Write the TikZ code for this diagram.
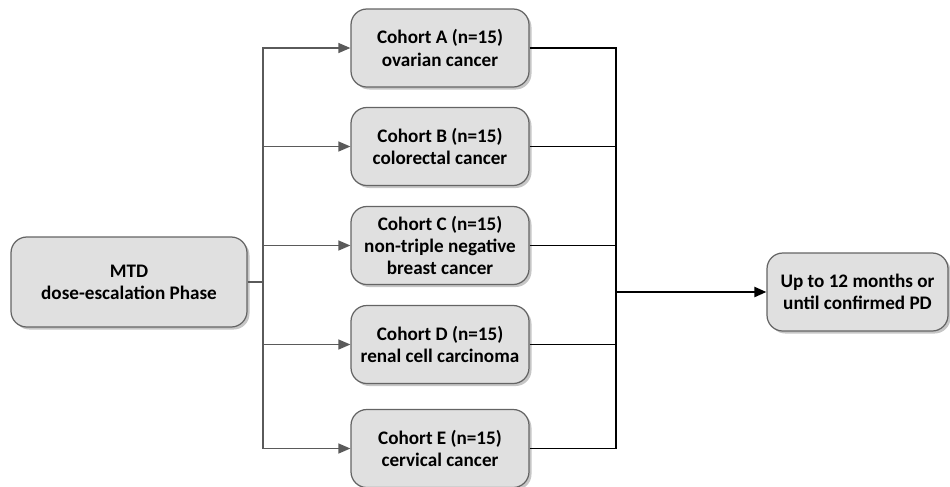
\documentclass[tikz,border=0pt]{standalone}
\usepackage{fontspec}
\setmainfont{Carlito}
\definecolor{boxfill}{RGB}{224,224,224}
\definecolor{boxline}{RGB}{100,100,100}
\definecolor{feedgray}{RGB}{90,90,90}
\usetikzlibrary{arrows.meta,shadows}

\begin{document}
\begin{tikzpicture}[
      stage/.style={draw=boxline,fill=boxfill,line width=0.7pt,rounded corners=9pt,
                   minimum width=3.56cm,minimum height=1.56cm,inner sep=1pt,
                   font=\fontsize{10.9}{12.6}\selectfont\bfseries,align=center,
                   drop shadow={shadow xshift=0.05cm,shadow yshift=-0.05cm,opacity=0.45}},
      feed/.style={-{Triangle[length=2.4mm,width=2mm]},draw=feedgray,line width=0.7pt},
      mergeline/.style={draw=black,line width=0.75pt},
      outarr/.style={-{Triangle[length=2.4mm,width=2mm]},draw=black,line width=1.3pt}
    ]
      \useasboundingbox (0,0) rectangle (19,-9.72);
      % Dose escalation
      \node[stage,minimum width=4.72cm,minimum height=1.8cm] (mtd) at (2.58,-5.64) {MTD\\dose-escalation Phase};
      % Expansion cohorts
      \node[stage] (ca) at (8.8,-0.96) {Cohort A (n=15)\\ovarian cancer};
      \node[stage] (cb) at (8.8,-2.93) {Cohort B (n=15)\\colorectal cancer};
      \node[stage] (cc) at (8.8,-4.91) {Cohort C (n=15)\\non-triple negative\\breast cancer};
      \node[stage] (cd) at (8.8,-6.89) {Cohort D (n=15)\\renal cell carcinoma};
      \node[stage] (ce) at (8.8,-8.97) {Cohort E (n=15)\\cervical cancer};
      % Follow-up
      \node[stage,minimum width=3.62cm] (pd) at (17.15,-5.84) {Up to 12 months or\\until confirmed PD};
      \coordinate (split) at (5.26,-5.64);
      \coordinate (merge) at (12.32,-5.84);
      % Branches
      \draw[feedgray,line width=0.7pt] (mtd) -- (split);
      \draw[feed] (split) |- (ca); \draw[feed] (split) |- (cb); \draw[feed] (split) |- (cc);
      \draw[feed] (split) |- (cd); \draw[feed] (split) |- (ce);
      \draw[mergeline] (ca) -| (merge); \draw[mergeline] (cb) -| (merge); \draw[mergeline] (cc) -| (merge);
      \draw[mergeline] (cd) -| (merge); \draw[mergeline] (ce) -| (merge);
      \draw[outarr] (merge) -- (pd);
    \end{tikzpicture}
\end{document}
